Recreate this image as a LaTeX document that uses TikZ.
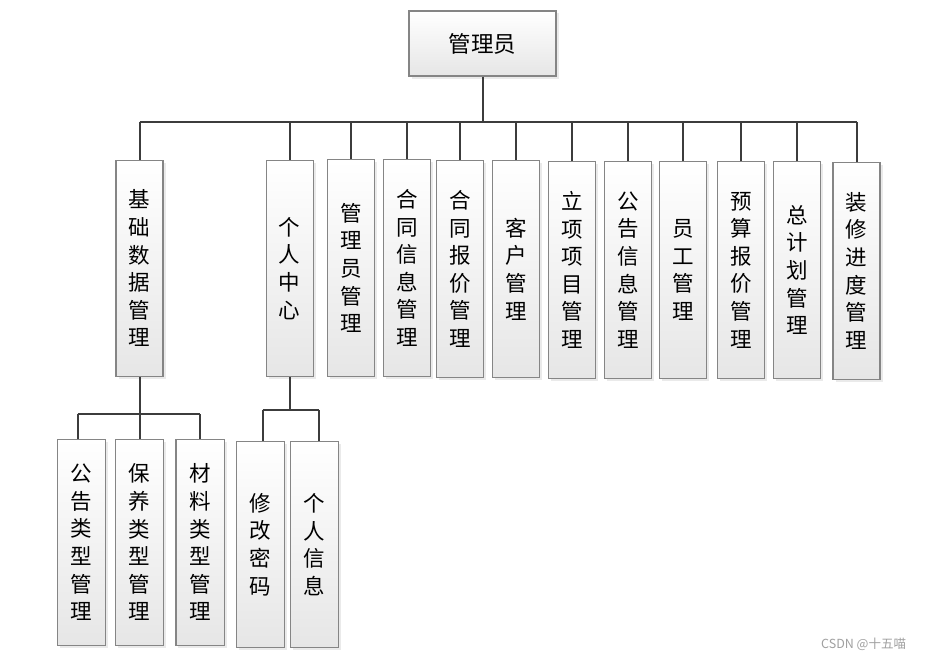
\documentclass[tikz,border=0pt]{standalone}
\usepackage{fontspec}
\newfontfamily\cjk{Noto Sans CJK SC}
\usetikzlibrary{shadows}
\definecolor{linec}{HTML}{3C3C3C}
\definecolor{boxb}{HTML}{858585}
\definecolor{boxbot}{HTML}{E6E6E6}
\definecolor{shadowc}{HTML}{D6D6D6}
\definecolor{wmc}{HTML}{A0A0A0}
\begin{document}
\begin{tikzpicture}[x=1pt,y=-1pt,
  box/.style={draw=boxb, line width=1.1pt, top color=white, bottom color=boxbot,
    drop shadow={shadow xshift=2.5pt, shadow yshift=-2.5pt, fill=shadowc},
    inner sep=0pt, align=center, font=\cjk\fontsize{21.5}{27.6}\selectfont},
  lvone/.style={box, minimum width=47pt, minimum height=216.5pt},
  lvtwo/.style={box, minimum width=48.5pt, minimum height=206pt},
  conn/.style={draw=linec, line width=2pt}]
\fill[white] (0,0) rectangle (936,661);
\useasboundingbox (0,0) rectangle (936,661);

% root
\node[box, minimum width=147pt, minimum height=65pt, font=\cjk\fontsize{22.5}{27.6}\selectfont] (root) at (482.5,43.5) {管理员};

% level 1
\node[lvone] (jc)   at (139.5,268.3) {基\\础\\数\\据\\管\\理};
\node[lvone] (gr)   at (289.7,268.3) {个\\人\\中\\心};
\node[lvone] (gly)  at (351.3,268) {管\\理\\员\\管\\理};
\node[lvone] (htxx) at (407.3,268) {合\\同\\信\\息\\管\\理};
\node[lvone] (htbj) at (459.8,269) {合\\同\\报\\价\\管\\理};
\node[lvone] (kh)   at (515.8,269) {客\\户\\管\\理};
\node[lvone] (lx)   at (571.8,270) {立\\项\\项\\目\\管\\理};
\node[lvone] (ggxx) at (628.2,270) {公\\告\\信\\息\\管\\理};
\node[lvone] (yg)   at (683.2,270) {员\\工\\管\\理};
\node[lvone] (ys)   at (740.8,270) {预\\算\\报\\价\\管\\理};
\node[lvone] (zjh)  at (796.8,270) {总\\计\\划\\管\\理};
\node[lvone] (zx)   at (856.5,270.8) {装\\修\\进\\度\\管\\理};

% level 2
\node[lvtwo] (gglx) at (81.5,542.3)  {公\\告\\类\\型\\管\\理};
\node[lvtwo] (bylx) at (139.5,542.3) {保\\养\\类\\型\\管\\理};
\node[lvtwo] (cllx) at (200.2,542.3) {材\\料\\类\\型\\管\\理};
\node[lvtwo] (xgmm) at (260.3,544.5) {修\\改\\密\\码};
\node[lvtwo] (grxx) at (314.5,544.5) {个\\人\\信\\息};

% bus coordinates
\coordinate (bus) at (0,122);
\coordinate (subA) at (0,413.7);
\coordinate (subB) at (0,409.7);

% top bus
\draw[conn] (root.south) -- (root.south |- bus);
\draw[conn] (jc.north |- bus) -- (zx.north |- bus);
\foreach \n in {jc,gr,gly,htxx,htbj,kh,lx,ggxx,yg,ys,zjh,zx}
  \draw[conn] (\n.north) -- (\n.north |- bus);

% sub bus A
\draw[conn] (jc.south) -- (bylx.north);
\draw[conn] ([xshift=-3.8pt]gglx.north |- subA) -- (cllx.north |- subA);
\draw[conn] ([xshift=-3.8pt]gglx.north) -- ([xshift=-3.8pt]gglx.north |- subA);
\draw[conn] (cllx.north) -- (cllx.north |- subA);

% sub bus B
\draw[conn] (gr.south) -- (gr.south |- subB);
\draw[conn] ([xshift=2.4pt]xgmm.north |- subB) -- ([xshift=4.8pt]grxx.north |- subB);
\draw[conn] ([xshift=2.4pt]xgmm.north) -- ([xshift=2.4pt]xgmm.north |- subB);
\draw[conn] ([xshift=4.8pt]grxx.north) -- ([xshift=4.8pt]grxx.north |- subB);

% watermark
\node[font=\cjk\fontsize{12.5}{14}\selectfont, text=wmc, anchor=west, inner sep=0pt] (wm) at (821,644) {CSDN @十五喵};
\end{tikzpicture}
\end{document}
